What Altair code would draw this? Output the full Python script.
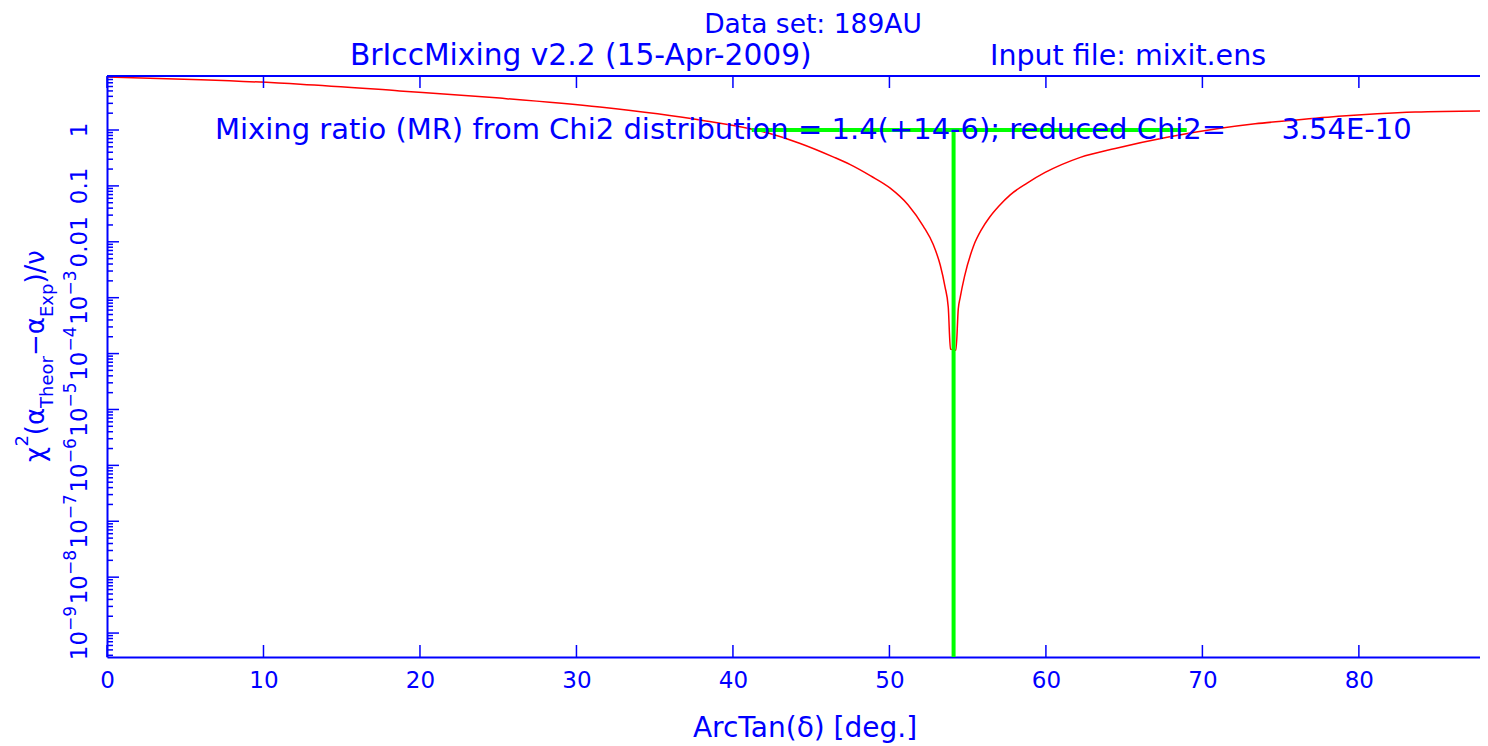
import altair as alt
import pandas as pd

BLUE = "#0000ff"
RED = "#ff0000"
GREEN = "#00ff00"
FONT = "DejaVu Sans"

# ---- data ----
curve_angle = [0, 6.0, 12.35, 18.7, 25.1, 31.5, 37.9, 42.2, 44.3, 46.4, 47.5, 48.8, 50.05, 51.2, 52.16,
               52.8, 53.25, 53.55, 53.76, 53.9,
               54.25, 54.4, 54.52, 54.8, 55.37, 55.93, 56.4, 57.0, 57.72, 58.8, 59.95, 61.0, 62.2,
               64.43, 67.75, 71.14, 73.37, 75.6, 78.94, 81.17, 83.6, 88.25]
curve_chi2 = [8.91, 7.94, 6.61, 5.01, 3.72, 2.57, 1.51, 0.891, 0.575, 0.331, 0.240, 0.151, 0.0912, 0.0457, 0.0191,
              0.00891, 0.00380, 0.00158, 0.000676, 0.000120,
              0.000115, 0.000631, 0.00100, 0.00240, 0.00832, 0.0174, 0.0275, 0.0437, 0.0692, 0.112, 0.174, 0.240, 0.324,
              0.468, 0.741, 1.07, 1.29, 1.48, 1.78, 1.95, 2.09, 2.19]

mr_range = [41.2, 69.0]      # ArcTan(delta) limits of mixing ratio
mr_best = 54.1               # ArcTan(1.4)
chi_level = 1.0

x_ticks = [0, 10, 20, 30, 40, 50, 60, 70, 80]
y_pow_values = [1e-9, 1e-8, 1e-7, 1e-6, 1e-5, 1e-4, 1e-3]
y_pow_exps = ["−9", "−8", "−7", "−6", "−5", "−4", "−3"]
y_plain_values = [1e-2, 1e-1, 1.0]
y_plain_labels = ["0.01", "0.1", "1"]

title_text = "Data set: 189AU"
sub_left = "BrIccMixing v2.2 (15-Apr-2009)"
sub_right = "Input file: mixit.ens"
annot_text = "Mixing ratio (MR) from Chi2 distribution = 1.4(+14-6); reduced Chi2=" + "\u00a0" * 5 + " 3.54E-10"
x_title = "ArcTan(δ) [deg.]"

# ---- layout ----
W, H = 1373, 581
XDOM = [0, 87.74]
YDOM = [3.73e-10, 9.25]
xs = alt.Scale(domain=XDOM, nice=False, zero=False)
ys = alt.Scale(type="log", domain=YDOM, nice=False)

y_major = y_pow_values + y_plain_values
y_minor = [k * 10.0 ** e for e in range(-10, 1) for k in range(2, 10) if YDOM[0] <= k * 10.0 ** e <= YDOM[1]]

xaxis = alt.Axis(values=x_ticks, title=None, grid=False, ticks=False, tickSize=0,
                 domainColor=BLUE, domainWidth=2, labelColor=BLUE, labelFont=FONT,
                 labelFontSize=23, labelPadding=12, labelFlush=False, labelOverlap=False)
yaxis = alt.Axis(values=y_major, title=None, grid=False, ticks=False, tickSize=0, labels=False,
                 domainColor=BLUE, domainWidth=2)

curve_df = pd.DataFrame({"angle": curve_angle, "chi2": curve_chi2})
curve = alt.Chart(curve_df).mark_line(color=RED, strokeWidth=1.5, interpolate="monotone", clip=True).encode(
    x=alt.X("angle:Q", scale=xs, axis=xaxis),
    y=alt.Y("chi2:Q", scale=ys, axis=yaxis),
)

green_h = alt.Chart(pd.DataFrame({"a": [mr_range[0]], "b": [mr_range[1]], "c": [chi_level]})).mark_rule(
    color=GREEN, strokeWidth=4).encode(
    x=alt.X("a:Q", scale=xs, axis=xaxis), x2="b:Q", y=alt.Y("c:Q", scale=ys, axis=yaxis))
green_v = alt.Chart(pd.DataFrame({"a": [mr_best], "c": [chi_level], "d": [YDOM[0]]})).mark_rule(
    color=GREEN, strokeWidth=4).encode(
    x=alt.X("a:Q", scale=xs, axis=xaxis), y=alt.Y("c:Q", scale=ys, axis=yaxis), y2="d:Q")

xt_df = pd.DataFrame({"v": x_ticks})
xt_bottom = alt.Chart(xt_df).mark_rule(color=BLUE, strokeWidth=1.5).encode(
    x=alt.X("v:Q", scale=xs, axis=xaxis), y=alt.value(H), y2=alt.value(H - 12))
xt_top = alt.Chart(xt_df).mark_rule(color=BLUE, strokeWidth=1.5).encode(
    x=alt.X("v:Q", scale=xs, axis=xaxis), y=alt.value(0), y2=alt.value(12))
yt_major = alt.Chart(pd.DataFrame({"v": y_major})).mark_rule(color=BLUE, strokeWidth=1.5).encode(
    y=alt.Y("v:Q", scale=ys, axis=yaxis), x=alt.value(0), x2=alt.value(12))
yt_minor = alt.Chart(pd.DataFrame({"v": y_minor})).mark_rule(color=BLUE, strokeWidth=1.5).encode(
    y=alt.Y("v:Q", scale=ys, axis=yaxis), x=alt.value(0), x2=alt.value(6))
top_frame = alt.Chart(pd.DataFrame({"v": [0]})).mark_rule(color=BLUE, strokeWidth=2).encode(
    x=alt.value(0), x2=alt.value(W), y=alt.value(0))

# rotated y tick labels (10 with raised exponent, or plain)
LAB, EXP = 23, 17
junction = (2 * 0.636 * LAB - (0.838 + 0.636) * EXP) / 2
pow_df = pd.DataFrame({"v": y_pow_values, "base": ["10"] * len(y_pow_values), "e": y_pow_exps})
ylab_base = alt.Chart(pow_df).mark_text(
    align="right", baseline="alphabetic", font=FONT, fontSize=LAB, color=BLUE, angle=270, dx=junction
).encode(y=alt.Y("v:Q", scale=ys, axis=yaxis), x=alt.value(-20), text="base:N")
ylab_exp = alt.Chart(pow_df).mark_text(
    align="left", baseline="alphabetic", font=FONT, fontSize=EXP, color=BLUE, angle=270, dx=junction
).encode(y=alt.Y("v:Q", scale=ys, axis=yaxis), x=alt.value(-31), text="e:N")
ylab_plain = alt.Chart(pd.DataFrame({"v": y_plain_values, "t": y_plain_labels})).mark_text(
    align="center", baseline="alphabetic", font=FONT, fontSize=LAB, color=BLUE, angle=270
).encode(y=alt.Y("v:Q", scale=ys, axis=yaxis), x=alt.value(-20), text="t:N")


def text_mark(txt, x, y, size, align="left", angle=0):
    return alt.Chart(pd.DataFrame({"t": [txt]})).mark_text(
        align=align, baseline="alphabetic", font=FONT, fontSize=size, color=BLUE, angle=angle
    ).encode(x=alt.value(x), y=alt.value(y), text="t:N")


texts = [
    text_mark(title_text, 706, -43, 26.5, align="center"),
    text_mark(sub_left, 243, -11, 29.7),
    text_mark(sub_right, 883, -11, 28.5),
    text_mark(annot_text, 108, 63, 29),
    text_mark(x_title, 698, 661, 28, align="center"),
]

# y-axis title with sub/superscripts, rotated
em = {"χ": 0.592, "(": 0.39, ")": 0.39, "α": 0.659, "−": 0.838, "/": 0.337, "ν": 0.592,
      "2": 0.636, "T": 0.611, "h": 0.634, "e": 0.615, "o": 0.612, "r": 0.411, "E": 0.632,
      "x": 0.592, "p": 0.635}
MAIN, SMALL = 26, 18
segments = [("χ", MAIN, -63), ("2", SMALL, -79), ("(α", MAIN, -63), ("Theor", SMALL, -54),
            ("−α", MAIN, -63), ("Exp", SMALL, -54), (")/ν", MAIN, -63)]
pos = 386.0
for seg, size, bx in segments:
    texts.append(text_mark(seg, bx, pos, size, angle=270))
    pos -= sum(em[c] for c in seg) * size

chart = alt.layer(
    curve, green_h, green_v, xt_bottom, xt_top, yt_major, yt_minor, top_frame,
    ylab_base, ylab_exp, ylab_plain, *texts
).properties(
    width=W, height=H,
    autosize=alt.AutoSizeParams(type="none"),
    padding={"left": 99, "top": 68, "right": 0, "bottom": 88},
).configure_view(strokeWidth=0)

chart.save("out.html", embed_options={"renderer": "svg", "actions": False})
